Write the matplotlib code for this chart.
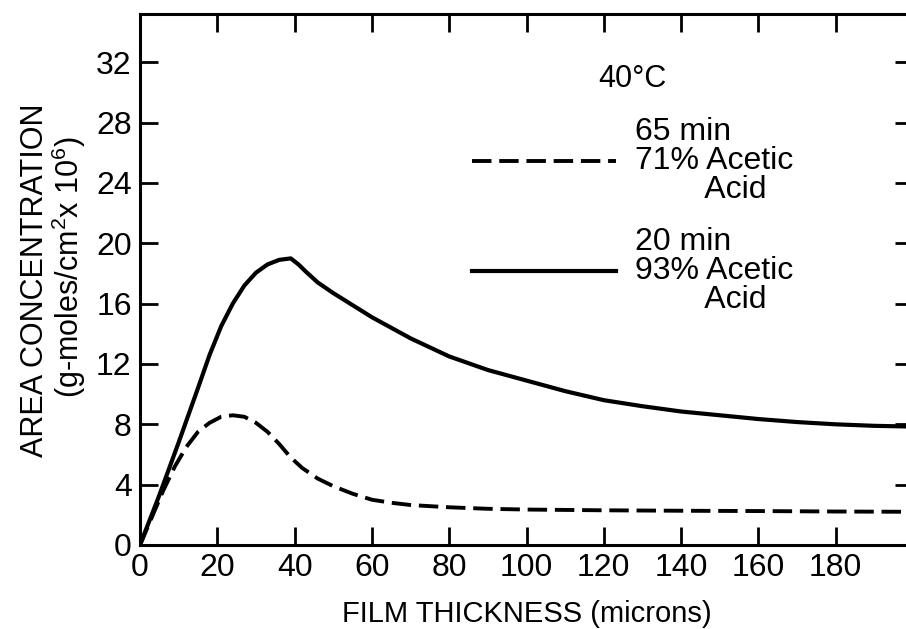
import numpy as np
import matplotlib.pyplot as plt

# values (film thickness in microns)
thickness_93 = [0, 5, 10, 15, 18, 21, 24, 27, 30, 33, 36, 39, 41, 43, 46, 50, 55, 60,
                65, 70, 80, 90, 100, 110, 120, 130, 140, 150, 160, 170, 180, 190, 200]
conc_93 = [0, 3.3, 6.8, 10.4, 12.6, 14.5, 16.0, 17.2, 18.05, 18.6, 18.9, 19.0, 18.6,
           18.1, 17.4, 16.7, 15.9, 15.1, 14.4, 13.7, 12.5, 11.6, 10.9, 10.2, 9.6, 9.2,
           8.85, 8.6, 8.35, 8.15, 8.0, 7.9, 7.85]

thickness_71 = [0, 3, 6, 9, 12, 15, 18, 21, 24, 27, 30, 33, 36, 39, 42, 46, 50, 55,
                60, 65, 70, 80, 90, 100, 120, 140, 160, 180, 200]
conc_71 = [0, 1.8, 3.6, 5.2, 6.5, 7.5, 8.1, 8.5, 8.6, 8.5, 8.1, 7.5, 6.7, 5.8, 5.1,
           4.4, 3.9, 3.4, 3.0, 2.8, 2.65, 2.5, 2.4, 2.35, 2.3, 2.27, 2.25, 2.22, 2.2]

x_ticks = [0, 20, 40, 60, 80, 100, 120, 140, 160, 180]
y_ticks = [0, 4, 8, 12, 16, 20, 24, 28, 32]

label_71 = "65 min\n71% Acetic\n        Acid"
label_93 = "20 min\n93% Acetic\n        Acid"
legend_title = "40°C"

plt.rcParams['font.family'] = ['Liberation Sans', 'DejaVu Sans']
plt.rcParams['mathtext.default'] = 'regular'

fig = plt.figure(figsize=(9.06, 6.29), dpi=100)
# right spine sits just past the cropped edge of the scan
ax = fig.add_axes([140 / 906, 84 / 629, 773 / 906, 531 / 629])

ax.plot(thickness_71, conc_71, color='black', lw=2.8, dashes=(5, 2),
        solid_capstyle='butt', label=label_71)
ax.plot(thickness_93, conc_93, color='black', lw=3.0, label=label_93)

ax.set_xlim(0, 200)
ax.set_ylim(0, 35.2)
ax.set_xticks(x_ticks)
ax.set_yticks(y_ticks)
ax.tick_params(direction='in', length=13, width=2.0, top=True, right=True,
               labelsize=23, pad=6)
for sp in ax.spines.values():
    sp.set_linewidth(2.2)

ax.set_xlabel("FILM THICKNESS (microns)", fontsize=21, labelpad=12)

fig.text(35 / 906, 1 - 280 / 629, "AREA CONCENTRATION", rotation=90,
         ha='center', va='center', fontsize=22)
fig.text(69 / 906, 1 - 267 / 629, r"(g-moles/cm$^2$x 10$^6$)", rotation=90,
         ha='center', va='center', fontsize=22)

leg = ax.legend(loc='upper left', bbox_to_anchor=(0.4295, 0.905), frameon=False,
                title=legend_title, title_fontsize=22, fontsize=23,
                handlelength=4.5, handletextpad=0.6, labelspacing=0.7,
                borderpad=0, borderaxespad=0)
for t in leg.get_texts():
    t.set_linespacing(0.95)

fig.savefig('out.png', dpi=100)
